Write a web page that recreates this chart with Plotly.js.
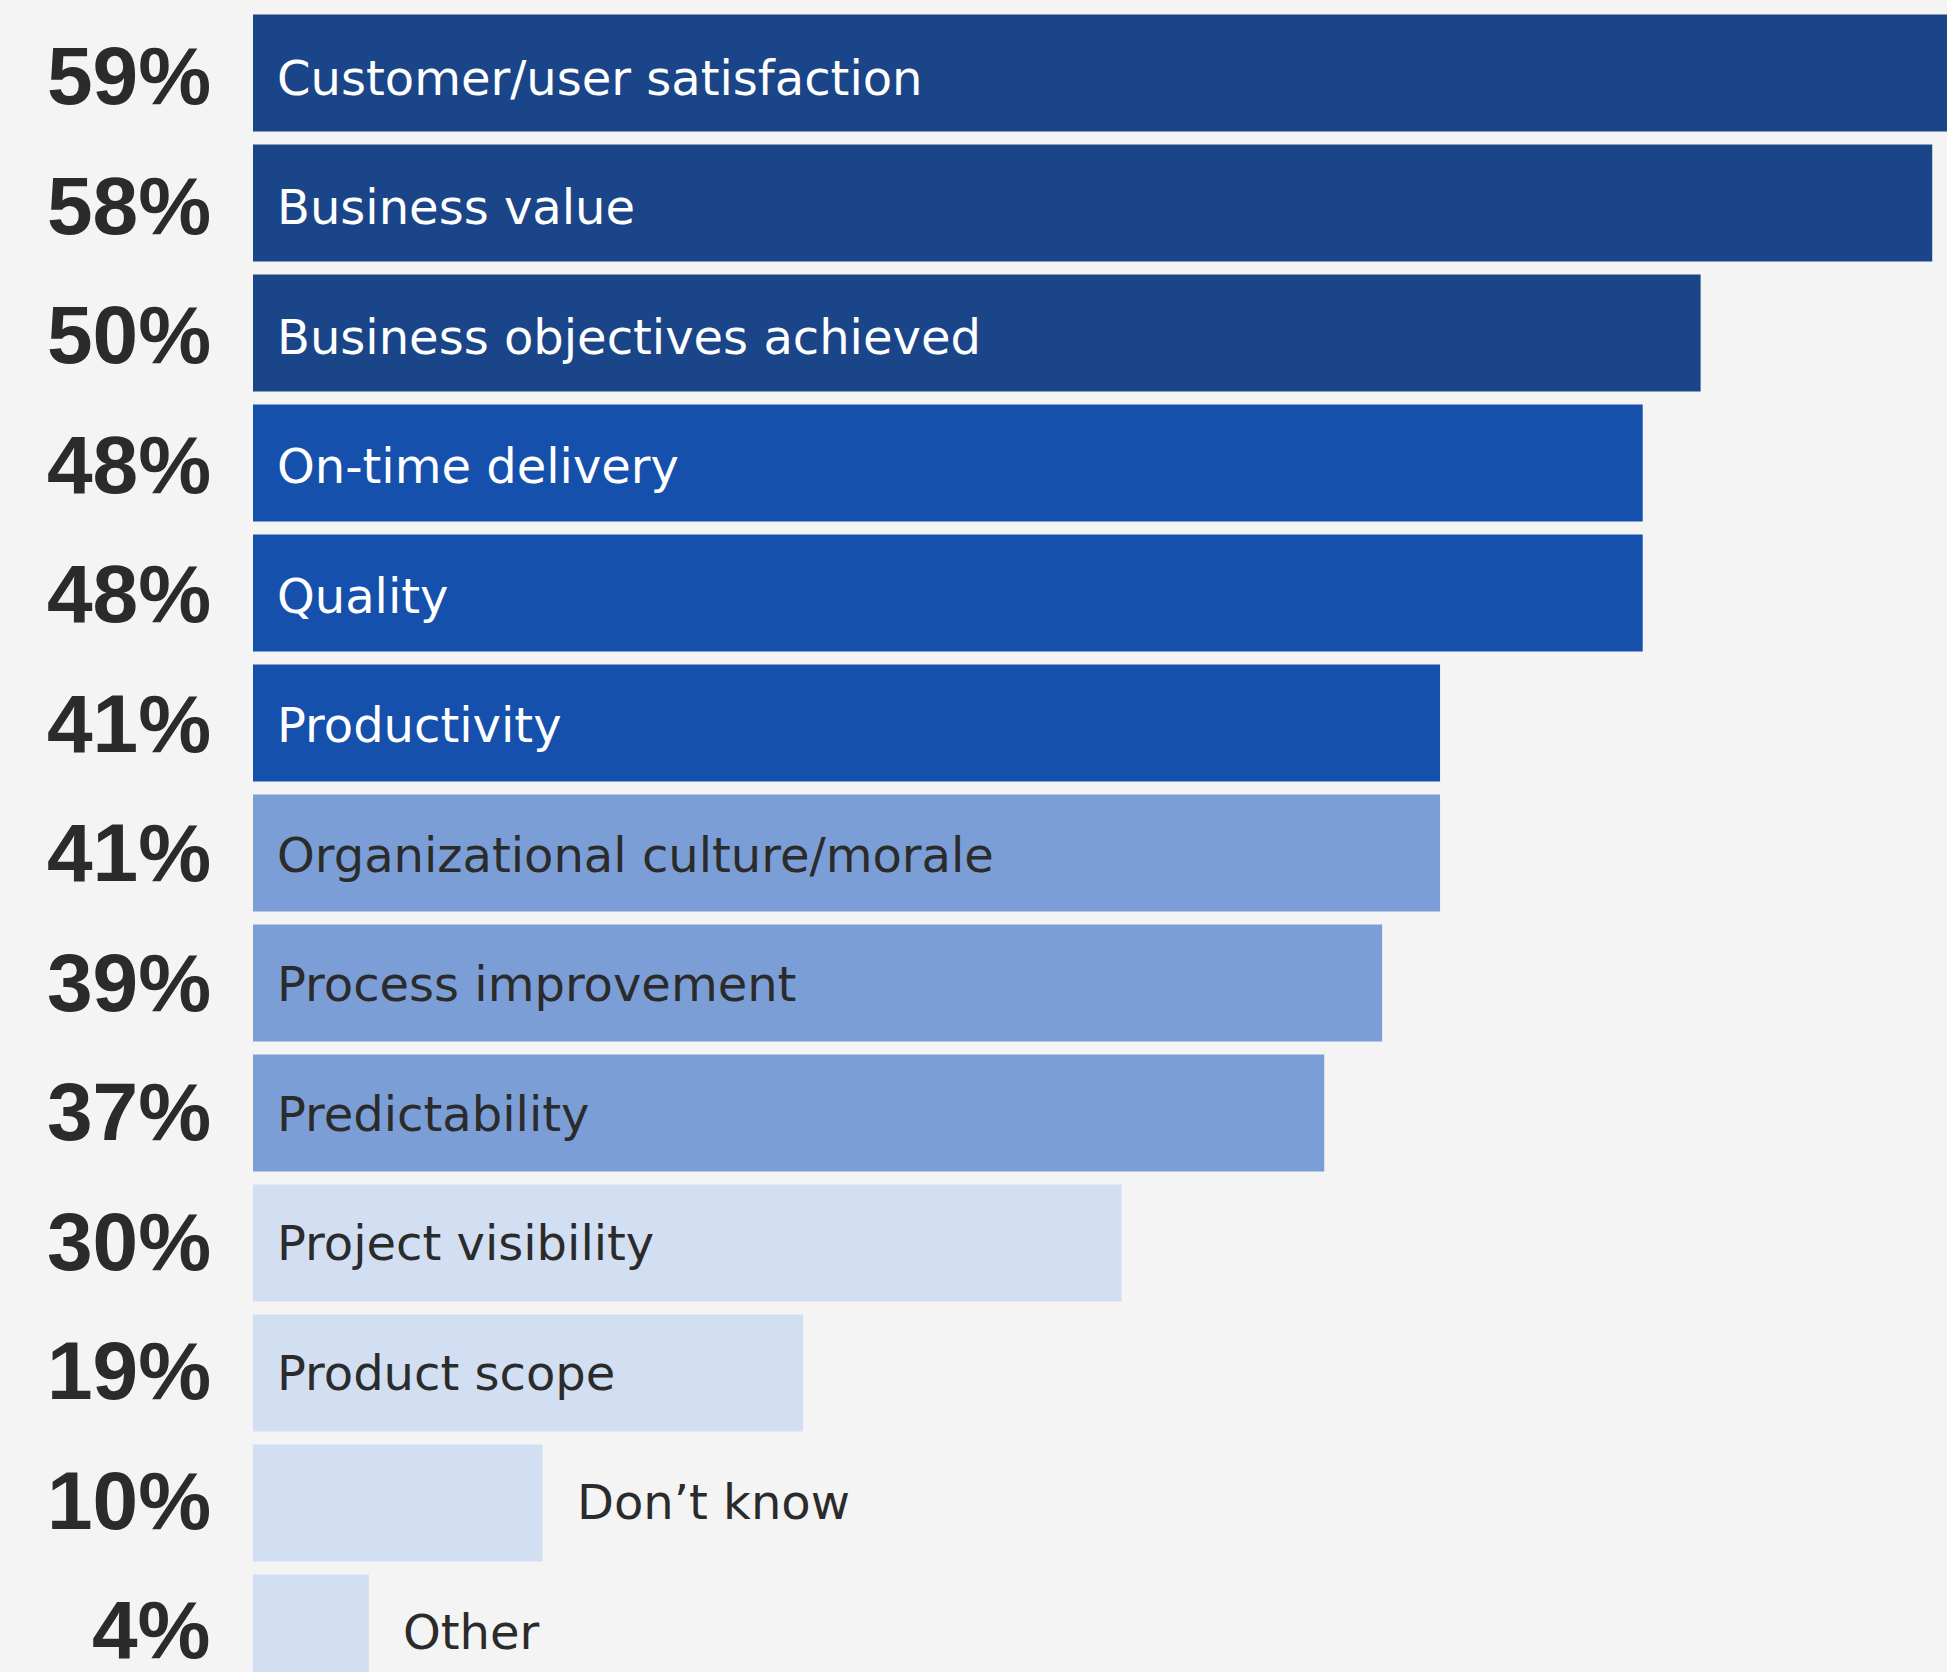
<!DOCTYPE html>
<html>
<head>
<meta charset="utf-8">
<script src="https://cdn.plot.ly/plotly-3.0.1.min.js"></script>
<style>
html,body{margin:0;padding:0;background:#f4f4f4;overflow:hidden;}
#chart{width:1947px;height:1672px;}
</style>
</head>
<body>
<div id="chart"></div>
<script>
const categories = [
  "Customer/user satisfaction",
  "Business value",
  "Business objectives achieved",
  "On-time delivery",
  "Quality",
  "Productivity",
  "Organizational culture/morale",
  "Process improvement",
  "Predictability",
  "Project visibility",
  "Product scope",
  "Don\u2019t know",
  "Other"
];
const values = [59, 58, 50, 48, 48, 41, 41, 39, 37, 30, 19, 10, 4];
const percentLabels = values.map(v => v + "%");
const barColors = [
  "#1a4689", "#1a4689", "#1a4689",
  "#1650ad", "#1650ad", "#1650ad",
  "#7b9ed6", "#7b9ed6", "#7b9ed6",
  "#d2dff2", "#d2dff2", "#d2dff2", "#d2dff2"
];
const labelColors = [
  "#ffffff", "#ffffff", "#ffffff",
  "#ffffff", "#ffffff", "#ffffff",
  "#2b2b2b", "#2b2b2b", "#2b2b2b",
  "#2b2b2b", "#2b2b2b", "#2b2b2b", "#2b2b2b"
];
const labelOutside = [false,false,false,false,false,false,false,false,false,false,false,true,true];

const barTrace = {
  type: "bar",
  orientation: "h",
  y: categories,
  x: values,
  marker: { color: barColors, line: { width: 0 } },
  hoverinfo: "none",
  cliponaxis: true
};
// invisible helper trace so the text axis knows the categories
const textAxisTrace = {
  type: "scatter",
  mode: "markers",
  y: categories,
  x: values,
  yaxis: "y2",
  marker: { opacity: 0, size: 1 },
  hoverinfo: "none",
  showlegend: false
};

const annotations = [];
categories.forEach((c, i) => {
  annotations.push({
    x: labelOutside[i] ? values[i] : 0,
    y: c,
    xref: "x", yref: "y2",
    text: c,
    showarrow: false,
    xanchor: "left",
    yanchor: "middle",
    xshift: labelOutside[i] ? 32 : 22,
    yshift: -5,
    font: { family: "DejaVu Sans", size: 48, color: labelColors[i] }
  });
  annotations.push({
    x: 0,
    y: c,
    xref: "paper", yref: "y2",
    text: percentLabels[i],
    showarrow: false,
    xanchor: "right",
    yanchor: "middle",
    xshift: -40,
    yshift: -3,
    font: { family: "Liberation Sans", size: 82, color: "#2b2b2b", weight: "bold" }
  });
});

const layout = {
  width: 1947,
  height: 1672,
  margin: { l: 253, r: 0, t: 8, b: 0, pad: 0 },
  paper_bgcolor: "#f4f4f4",
  plot_bgcolor: "#f4f4f4",
  showlegend: false,
  bargap: 0.1,
  xaxis: {
    range: [0, 58.51],
    visible: false,
    showgrid: false,
    zeroline: false,
    fixedrange: true
  },
  yaxis: {
    type: "category",
    range: [12.3, -0.5],
    visible: false,
    showgrid: false,
    zeroline: false,
    fixedrange: true
  },
  yaxis2: {
    type: "category",
    overlaying: "y",
    categoryorder: "array",
    categoryarray: categories,
    range: [12.349, -0.5],
    visible: false,
    showgrid: false,
    zeroline: false,
    fixedrange: true
  },
  annotations: annotations
};

Plotly.newPlot("chart", [barTrace, textAxisTrace], layout, { displayModeBar: false, staticPlot: true });
</script>
</body>
</html>
